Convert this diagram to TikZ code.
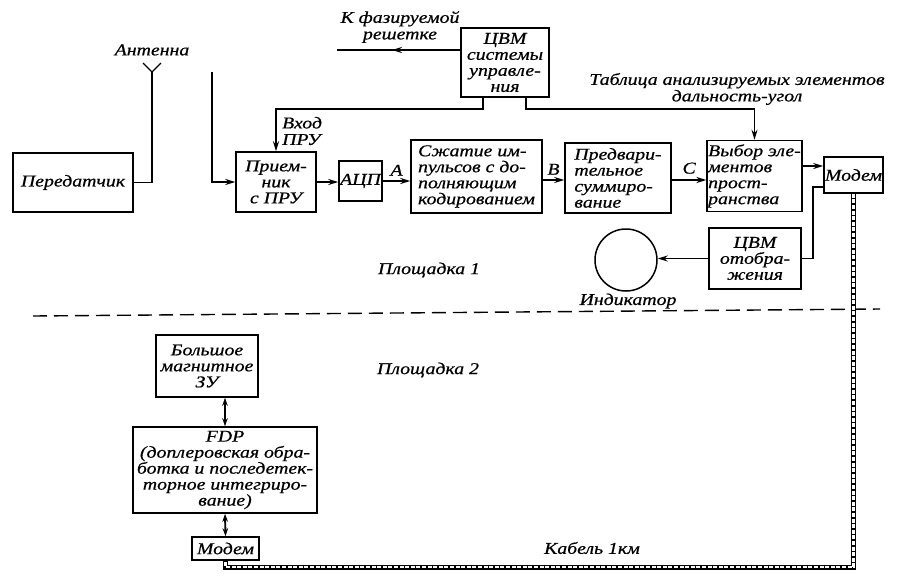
\documentclass[tikz,border=0pt]{standalone}
\usepackage{fontspec}
\setmainfont{Liberation Serif}[FakeStretch=1.2, FakeBold=0.6]
\usetikzlibrary{arrows.meta}
\newcommand\dfont{\fontsize{16.5}{16}\selectfont\itshape}
\newcommand\sfont{\fontsize{16.5}{16.5}\selectfont\itshape}
\begin{document}
\begin{tikzpicture}[x=1pt,y=-1pt,
  box/.style={draw, line width=1.5pt, inner sep=1pt, font=\dfont, align=center},
  lbl/.style={font=\dfont, inner sep=0pt, align=center},
  conn/.style={line width=1.9pt},
  arr/.style={-{Stealth[length=10pt,width=6pt]}},
  darr/.style={{Stealth[length=8pt,width=5.5pt]}-{Stealth[length=8pt,width=5.5pt]}},
  cableo/.style={line width=5pt},
  cablei/.style={white, line width=2.2pt, dash pattern=on 4pt off 1.6pt},
]
\fill[white] (0,0) rectangle (903,579);
\useasboundingbox (0,0) rectangle (903,579);

% ---- nodes, area 1
\node[box, minimum width=120pt, minimum height=59pt] (tx) at (73,182.5) {Передатчик};
\node[box, minimum width=80pt, minimum height=60pt] (rx) at (276,182) {Прием-\\ник\\с ПРУ};
\node[box, minimum width=43pt, minimum height=40pt] (adc) at (360.5,181) {АЦП};
\node[box, minimum width=131pt, minimum height=73pt, align=left] (cmp) at (476.5,176.5) {Сжатие им-\\пульсов с до-\\полняющим\\кодированием};
\node[box, minimum width=106pt, minimum height=70pt, align=left] (pre) at (618,178) {Предвари-\\тельное\\суммиро-\\вание};
\node[box, minimum width=91pt, minimum height=71pt, align=left] (sel) at (754.5,176) {Выбор эле-\\ментов\\прост-\\ранства};
\node[box, minimum width=59pt, minimum height=36pt] (mod) at (853.5,175) {Модем};
\node[box, minimum width=88pt, minimum height=69pt] (cvm) at (505,62.5) {ЦВМ\\системы\\управле-\\ния};
\node[box, minimum width=92pt, minimum height=61pt] (dsp) at (755,258.5) {ЦВМ\\отобра-\\жения};
\node[draw, circle, line width=1.5pt, minimum size=62pt, inner sep=0pt] (ind) at (626,260) {};

% ---- labels, area 1
\node[lbl] (antl) at (152,50) {Антенна};
\node[lbl, font=\sfont] (kfl) at (400,27) {К фазируемой\\решетке};
\node[lbl, font=\sfont] (tbl) at (737,89) {Таблица анализируемых элементов\\дальность-угол};
\node[lbl, anchor=west, align=left, font=\sfont] (vhl) at (282,131) {Вход\\ПРУ};
\node[lbl] (pl1) at (429,270) {Площадка 1};
\node[lbl] (indl) at (628,301) {Индикатор};

% ---- coordinates
\coordinate (ant) at (152,72);
\coordinate (antL) at (143,63);
\coordinate (antR) at (161,63);
\coordinate (inp) at (212,72);
\coordinate (kf) at (337,50);
\coordinate (kfm) at (392,50);
\coordinate (dl1) at (33,316);
\coordinate (dl2) at (880,309);
\coordinate (cb) at (0,567);

% ---- connectors, area 1
\draw[conn] (tx.east) -| (ant);
\draw[line width=1.3pt] (antL) -- (ant) -- (antR);
\draw[conn, arr] (inp) |- (rx.west);
\draw[conn, arr] (rx.east) -- (rx.east -| adc.west);
\draw[conn, arr] (adc.east) -- (adc.east -| cmp.west) node[midway, above=1pt, font=\dfont] (la) {A};
\draw[conn, arr] (cmp.east |- 0,180) -- (pre.west |- 0,180) node[midway, above=1pt, font=\dfont] (lb) {B};
\draw[conn, arr] (pre.east |- 0,180) -- (sel.west |- 0,180) node[midway, above=2pt, font=\dfont] (lc) {C};
\draw[conn, arr] (sel.east |- 0,166) -- (mod.west |- 0,166);
\draw[conn, arr] ([xshift=-22pt]cvm.south) -- ++(0,11) -| (rx.north);
\draw[conn, arr] ([xshift=21pt]cvm.south) -- ++(0,11) -| (sel.north);
\draw[conn] (cvm.west |- kf) -- (kf);
\draw[conn, arr] (cvm.west |- kf) -- (kfm);
\draw[conn, arr] (dsp.west) -- (dsp.west -| ind.east);
\draw[conn] (dsp.east) -- ++(11,0) |- ([yshift=-12pt]mod.west);

% ---- dividing line
\draw[line width=1.4pt, dash pattern=on 14pt off 7pt] (dl1) -- (dl2);

% ---- area 2
\node[box, minimum width=102pt, minimum height=62pt] (big) at (207,366) {Большое\\магнитное\\ЗУ};
\node[box, minimum width=184pt, minimum height=86pt] (fdp) at (225,470) {FDP\\(доплеровская обра-\\ботка и последетек-\\торное интегриро-\\вание)};
\node[box, minimum width=67pt, minimum height=23pt] (mod2) at (225.5,548.5) {Модем};
\node[lbl] (pl2) at (428,370) {Площадка 2};
\node[lbl] (cbl) at (592,548) {Кабель 1км};

\draw[conn, darr] (big.south -| fdp.north) -- (fdp.north);
\draw[conn, darr] (fdp.south) -- (mod2.north);

% ---- cable
\draw[cableo] (mod.south) -- (mod.south |- cb) -- (mod2.south |- cb) -- (mod2.south);
\draw[cablei] (mod.south) -- (mod.south |- cb) -- (mod2.south |- cb) -- (mod2.south);
\end{tikzpicture}
\end{document}
